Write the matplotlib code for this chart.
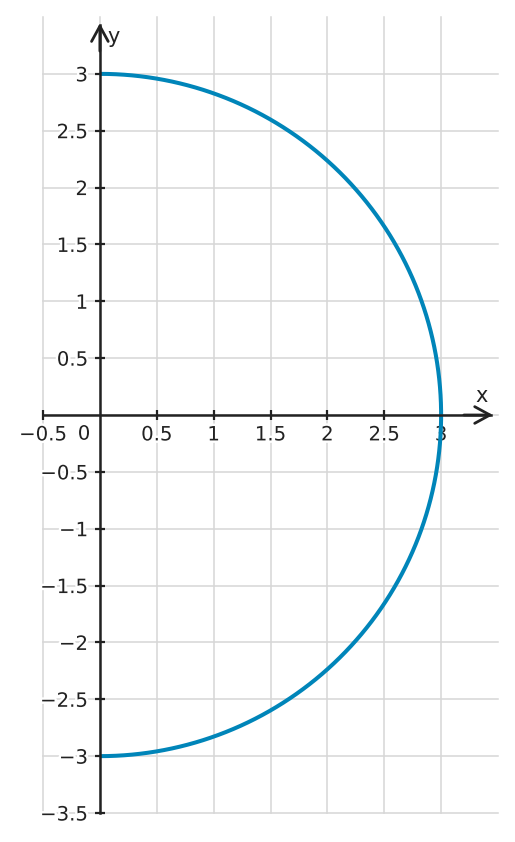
import numpy as np
import matplotlib.pyplot as plt
import matplotlib.patheffects as pe

# -----------------------------
# Data
# -----------------------------
radius = 3.0
x_ticks = [-0.5, 0.5, 1, 1.5, 2, 2.5, 3]
x_tick_labels = ["\u22120.5", "0.5", "1", "1.5", "2", "2.5", "3"]
y_ticks = [-3.5, -3, -2.5, -2, -1.5, -1, -0.5, 0.5, 1, 1.5, 2, 2.5, 3]
y_tick_labels = ["\u22123.5", "\u22123", "\u22122.5", "\u22122", "\u22121.5", "\u22121",
                 "\u22120.5", "0.5", "1", "1.5", "2", "2.5", "3"]
grid_x = [-0.5, 0, 0.5, 1, 1.5, 2, 2.5, 3]
grid_y = [-3.5, -3, -2.5, -2, -1.5, -1, -0.5, 0, 0.5, 1, 1.5, 2, 2.5, 3]

# right half of the circle x^2 + y^2 = r^2
t = np.linspace(-np.pi / 2, np.pi / 2, 400)
curve_x = radius * np.cos(t)
curve_y = radius * np.sin(t)

ink = "#222222"
grid_c = "#d6d6d6"
blue = "#0085b9"
halo = [pe.withStroke(linewidth=3.5, foreground="white")]

fig = plt.figure(figsize=(5.15, 8.42), dpi=100)
ax = fig.add_axes([43 / 515, 29 / 842, 455 / 515, 796 / 842])
ax.set_xlim(-0.5, 3.5)
ax.set_ylim(-3.5, 3.5)

# grid
for gx in grid_x:
    ax.plot([gx, gx], [-3.5, 3.5], color=grid_c, lw=1.1, zorder=0, clip_on=False)
for gy in grid_y:
    ax.plot([-0.5, 3.5], [gy, gy], color=grid_c, lw=1.1, zorder=0, clip_on=False)

# curve
ax.plot(curve_x, curve_y, color=blue, lw=2.9, zorder=2, solid_capstyle="butt")

# axes through origin
for s in ["top", "right"]:
    ax.spines[s].set_visible(False)
ax.spines["left"].set_position(("data", 0))
ax.spines["bottom"].set_position(("data", 0))
ax.spines["left"].set_bounds(-3.5, 3.43)
ax.spines["bottom"].set_bounds(-0.5, 3.44)
for s in ["left", "bottom"]:
    ax.spines[s].set_color(ink)
    ax.spines[s].set_linewidth(1.8)

ax.annotate("", xy=(3.455, 0), xytext=(3.2, 0),
            arrowprops=dict(arrowstyle="->,head_length=0.55,head_width=0.3",
                            color=ink, lw=2.0, mutation_scale=20,
                            shrinkA=0, shrinkB=0))
ax.annotate("", xy=(0, 3.445), xytext=(0, 3.2),
            arrowprops=dict(arrowstyle="->,head_length=0.55,head_width=0.3",
                            color=ink, lw=2.0, mutation_scale=20,
                            shrinkA=0, shrinkB=0))

ax.set_xticks(x_ticks)
ax.set_xticklabels(x_tick_labels)
ax.set_yticks(y_ticks)
ax.set_yticklabels(y_tick_labels)
ax.tick_params(axis="both", direction="inout", length=7, width=1.6,
               color=ink, labelcolor=ink, labelsize=14.2)
ax.tick_params(axis="x", pad=4)
ax.tick_params(axis="y", pad=5)
for lab in ax.get_xticklabels() + ax.get_yticklabels():
    lab.set_path_effects(halo)

ax.text(-0.14, -0.085, "0", ha="center", va="top", fontsize=14.2, color=ink,
        path_effects=halo)
ax.text(3.36, 0.17, "x", ha="center", va="center", fontsize=15, color=ink)
ax.text(0.12, 3.32, "y", ha="center", va="center", fontsize=15, color=ink)

fig.savefig("out.png", dpi=100)
